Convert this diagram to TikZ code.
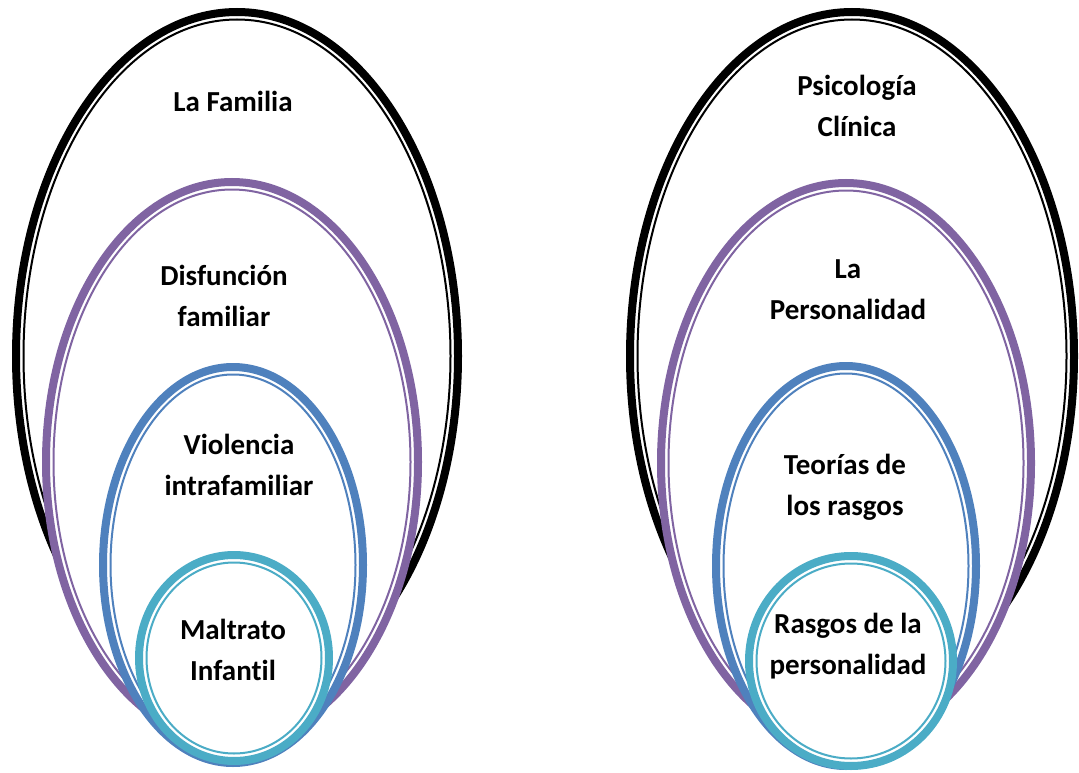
\documentclass[tikz,border=0pt]{standalone}
\usepackage{fontspec}
\setmainfont{Carlito}[Ligatures=NoCommon]
\usepackage{tikz}

\definecolor{ringblack}{RGB}{0,0,0}
\definecolor{ringpurple}{RGB}{128,100,162}
\definecolor{ringblue}{RGB}{79,129,189}
\definecolor{ringcyan}{RGB}{75,172,198}

\tikzset{
	lbl/.style={align=center, font=\bfseries\fontsize{29}{41}\selectfont, inner sep=0pt},
	bandthick/.style={line width=8pt, fill=white},
	bandthin/.style={line width=2pt}
}

% #1 cx, #2 cy, #3 rx, #4 ry (outer edge), #5 colour
\newcommand{\ringshape}[5]{%
	\pgfmathsetmacro{\rxa}{#3-4}\pgfmathsetmacro{\rya}{#4-4}%
	\pgfmathsetmacro{\rxb}{#3-11.5}\pgfmathsetmacro{\ryb}{#4-11.5}%
	\filldraw[bandthick, draw=#5] (#1,#2) ellipse [x radius=\rxa, y radius=\rya];
	\draw[bandthin, draw=#5] (#1,#2) ellipse [x radius=\rxb, y radius=\ryb];
}

\begin{document}
\begin{tikzpicture}[x=1pt,y=-1pt]
	\useasboundingbox (0,0) rectangle (1079,773);
	\ringshape{237}{356}{225}{348}{ringblack}
	\ringshape{232}{462}{190}{284}{ringpurple}
	\ringshape{233}{565}{134}{202}{ringblue}
	\ringshape{234}{658}{99}{107}{ringcyan}
	\node[lbl] (familia) at (233,101) {La Familia};
	\node[lbl] (disfuncion) at (224,296) {Disfunción\\familiar};
	\node[lbl] (violencia) at (239,465) {Violencia\\intrafamiliar};
	\node[lbl] (maltrato) at (233,650) {Maltrato\\Infantil};
	\ringshape{852}{356}{226}{348}{ringblack}
	\ringshape{846}{463}{189}{284}{ringpurple}
	\ringshape{846}{566}{134}{204}{ringblue}
	\ringshape{851}{661}{106}{109}{ringcyan}
	\node[lbl] (psicologia) at (857,106) {Psicología\\Clínica};
	\node[lbl] (personalidad) at (848,290) {La\\Personalidad};
	\node[lbl] (teorias) at (845,487) {Teorías de\\los rasgos};
	\node[lbl] (rasgos) at (848,646) {Rasgos de la\\personalidad};
\end{tikzpicture}
\end{document}
